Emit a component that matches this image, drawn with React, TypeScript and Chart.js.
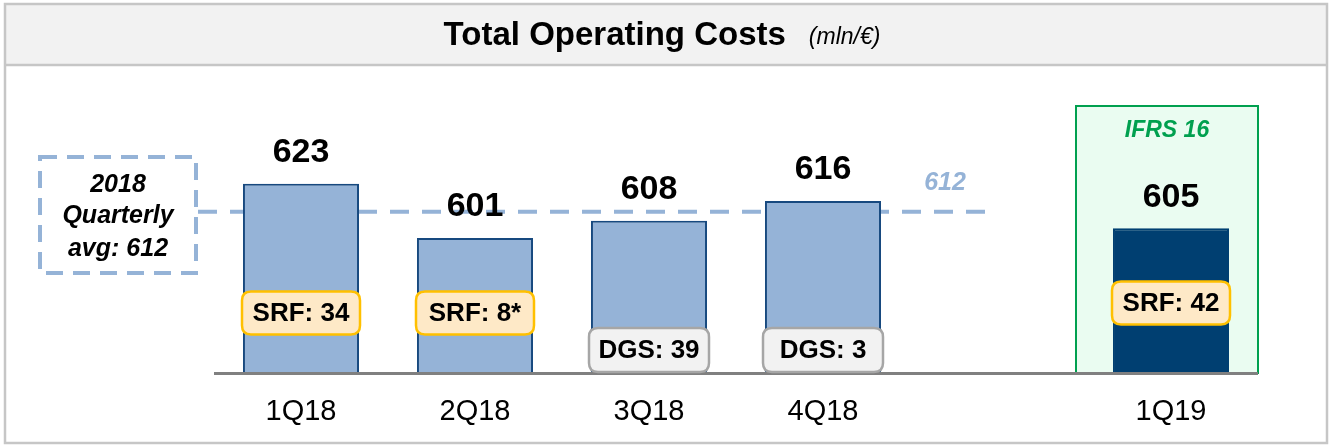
import React, { useEffect, useRef } from "react";
import { Chart, registerables } from "chart.js";

Chart.register(...registerables);

const categories = ["1Q18", "2Q18", "3Q18", "4Q18", "", "1Q19"];
const costValues = [623, 601, 608, 616, null, 605];
const badgeTexts = ["SRF: 34", "SRF: 8*", "DGS: 39", "DGS: 3", null, "SRF: 42"];
const avgValue = 612;
const avgBoxLines = ["2018", "Quarterly", "avg: 612"];
const titleText = "Total Operating Costs";
const unitText = "(mln/€)";
const ifrsLabel = "IFRS 16";
const yMin = 546.4;
const yMax = 669;

const FONT = '"Liberation Sans", Arial, Helvetica, sans-serif';
const LIGHT = "#95b3d7";
const LIGHT_BORDER = "#17497f";
const NAVY = "#003f71";

function roundRect(ctx: CanvasRenderingContext2D, x: number, y: number, w: number, h: number, r: number) {
  ctx.beginPath();
  ctx.moveTo(x + r, y);
  ctx.lineTo(x + w - r, y);
  ctx.quadraticCurveTo(x + w, y, x + w, y + r);
  ctx.lineTo(x + w, y + h - r);
  ctx.quadraticCurveTo(x + w, y + h, x + w - r, y + h);
  ctx.lineTo(x + r, y + h);
  ctx.quadraticCurveTo(x, y + h, x, y + h - r);
  ctx.lineTo(x, y + r);
  ctx.quadraticCurveTo(x, y, x + r, y);
  ctx.closePath();
}

const decorPlugin = {
  id: "decor",
  beforeDraw(chart: any) {
    const ctx: CanvasRenderingContext2D = chart.ctx;
    const area = chart.chartArea;
    const xs = chart.scales.x;
    const ys = chart.scales.y;
    ctx.save();
    // frame + header band
    ctx.fillStyle = "#ffffff";
    ctx.fillRect(0, 0, chart.width, chart.height);
    ctx.fillStyle = "#f2f2f2";
    ctx.fillRect(5, 4, 1322, 61);
    ctx.strokeStyle = "#c6c6c6";
    ctx.lineWidth = 2.5;
    ctx.strokeRect(5, 4, 1322, 439);
    ctx.beginPath();
    ctx.moveTo(5, 65);
    ctx.lineTo(1327, 65);
    ctx.stroke();

    // title
    ctx.fillStyle = "#000";
    ctx.textBaseline = "middle";
    ctx.textAlign = "left";
    ctx.font = `bold 33px ${FONT}`;
    const w1 = ctx.measureText(titleText).width;
    ctx.font = `italic 23px ${FONT}`;
    const w2 = ctx.measureText(unitText).width;
    const gap = 23;
    const start = 662 - (w1 + gap + w2) / 2;
    ctx.font = `bold 33px ${FONT}`;
    ctx.fillText(titleText, start, 36);
    ctx.font = `italic 23px ${FONT}`;
    ctx.fillText(unitText, start + w1 + gap, 38);

    // IFRS 16 box around last bar
    const last = categories.length - 1;
    const cx = xs.getPixelForValue(last);
    const bx = cx - 95;
    ctx.fillStyle = "#eafcf1";
    ctx.fillRect(bx, 106, area.right - bx, area.bottom - 106);
    ctx.strokeStyle = "#00a04f";
    ctx.lineWidth = 2;
    ctx.strokeRect(bx, 106, area.right - bx, area.bottom - 106);
    ctx.fillStyle = "#00a04f";
    ctx.textAlign = "center";
    ctx.font = `italic bold 23px ${FONT}`;
    ctx.fillText(ifrsLabel, bx + (area.right - bx) / 2, 131);

    // average dashed line
    const yAvg = ys.getPixelForValue(avgValue);
    ctx.strokeStyle = LIGHT;
    ctx.lineWidth = 4;
    ctx.setLineDash([19, 13]);
    ctx.beginPath();
    ctx.moveTo(198, yAvg + 1);
    ctx.lineTo(988, yAvg + 1);
    ctx.stroke();

    // dashed box
    ctx.setLineDash([17, 10]);
    ctx.strokeRect(40, 157, 156, 116);
    ctx.setLineDash([]);
    ctx.fillStyle = "#000";
    ctx.font = `italic bold 25px ${FONT}`;
    ctx.fillText(avgBoxLines[0], 118, 185);
    ctx.fillText(avgBoxLines[1], 118, 216);
    ctx.fillText(avgBoxLines[2], 118, 249);

    // avg label
    ctx.fillStyle = LIGHT;
    ctx.fillText(String(avgValue), 945, yAvg - 28);
    ctx.restore();
  },
  afterDatasetsDraw(chart: any) {
    const ctx: CanvasRenderingContext2D = chart.ctx;
    const area = chart.chartArea;
    const meta = chart.getDatasetMeta(0);
    ctx.save();
    // baseline
    ctx.strokeStyle = "#808080";
    ctx.lineWidth = 3;
    ctx.beginPath();
    ctx.moveTo(area.left, area.bottom + 0.5);
    ctx.lineTo(area.right, area.bottom + 0.5);
    ctx.stroke();

    ctx.textAlign = "center";
    ctx.textBaseline = "middle";
    meta.data.forEach((bar: any, i: number) => {
      const v = costValues[i];
      if (v == null) return;
      ctx.fillStyle = "#000";
      ctx.font = `bold 34px ${FONT}`;
      ctx.fillText(String(v), bar.x, bar.y - 31);

      const t = badgeTexts[i];
      if (!t) return;
      const isDgs = t.startsWith("DGS");
      const w = isDgs ? 120 : 118;
      const h = isDgs ? 44 : 43;
      const cy = isDgs ? area.bottom - 23 : i === categories.length - 1 ? area.bottom - 70 : area.bottom - 60;
      roundRect(ctx, bar.x - w / 2, cy - h / 2, w, h, 9);
      ctx.fillStyle = isDgs ? "#f2f2f2" : "#fee9c7";
      ctx.fill();
      ctx.lineWidth = 2.5;
      ctx.strokeStyle = isDgs ? "#a6a6a6" : "#ffc000";
      ctx.stroke();
      ctx.fillStyle = "#000";
      ctx.font = `bold 26px ${FONT}`;
      ctx.fillText(t, bar.x, cy + 1);
    });
    ctx.restore();
  },
};

export default function App() {
  const ref = useRef<HTMLCanvasElement | null>(null);
  useEffect(() => {
    if (!ref.current) return;
    const chart = new Chart(ref.current, {
      type: "bar",
      data: {
        labels: categories,
        datasets: [
          {
            data: costValues as any,
            backgroundColor: (c: any) => (c.dataIndex === categories.length - 1 ? NAVY : LIGHT),
            borderColor: (c: any) => (c.dataIndex === categories.length - 1 ? NAVY : LIGHT_BORDER),
            borderWidth: 2,
            borderSkipped: "bottom",
            barPercentage: 0.667,
            categoryPercentage: 1,
          },
        ],
      },
      options: {
        responsive: false,
        animation: false,
        layout: { padding: { left: 214, right: 72, top: 70, bottom: 0 } },
        plugins: { legend: { display: false }, tooltip: { enabled: false }, title: { display: false } },
        scales: {
          x: {
            grid: { display: false, drawTicks: false },
            border: { display: false },
            ticks: { color: "#000", font: { family: FONT, size: 29 }, padding: 22, maxRotation: 0 },
            afterFit: (s: any) => {
              s.height = 73;
            },
          },
          y: { display: false, min: yMin, max: yMax },
        },
      },
      plugins: [decorPlugin],
    });
    return () => chart.destroy();
  }, []);
  return (
    <div style={{ position: "absolute", left: 0, top: 0, width: 1330, height: 446 }}>
      <canvas ref={ref} width={1330} height={446} style={{ width: 1330, height: 446, display: "block" }} />
    </div>
  );
}
